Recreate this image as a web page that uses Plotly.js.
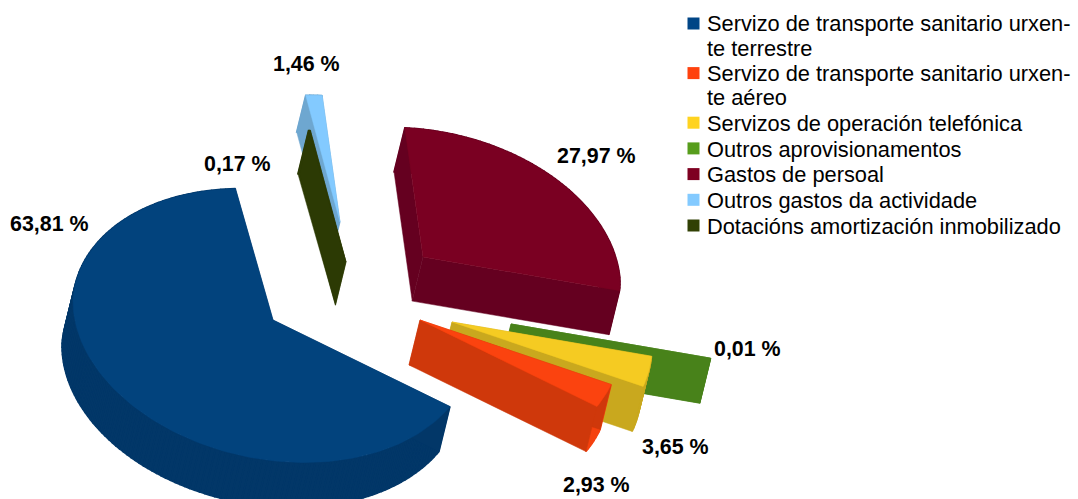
<!DOCTYPE html>
<html>
<head>
<meta charset="utf-8">
<script src="https://cdn.plot.ly/plotly-3.0.1.min.js"></script>
<style>html,body{margin:0;padding:0;background:#fff}#c{width:1078px;height:499px}</style>
</head>
<body>
<div id="c"></div>
<script>
// ---- data, in the order the pie runs counter-clockwise ----
const categories = [
  "Servizo de transporte sanitario urxen-\nte terrestre",
  "Servizo de transporte sanitario urxen-\nte aéreo",
  "Servizos de operación telefónica",
  "Outros aprovisionamentos",
  "Gastos de persoal",
  "Outros gastos da actividade",
  "Dotacións amortización inmobilizado"
];
const values = [63.81, 2.93, 3.65, 0.01, 27.97, 1.46, 0.17];

// ---- styling ----
const legendColors = ["#004586","#ff420e","#ffd320","#579d1c","#7e0021","#83caff","#314004"];
const topColors    = ["#02437d","#fb430f","#f5cb22","#48821a","#7a0022","#83caff","#2c3a04"];
const wallColors   = ["#023768","#cf380b","#c9a81e","#48821a","#650020","#6ea7d0","#2c3a04"];
const capColors    = ["#023768","#f5420f","#c9a81e","#48821a","#650020","#6ea7d0","#2c3a04"];

// ---- exploded 3D projection (plot units = pixels of the frame) ----
const startAngle = 101.5;                       // degrees where the first slice begins
const sliceTips = [[273,320],[420,320],[452,322],[511,324],[423,257],[340,222],[346,262]];
const sliceScale = [1,1,1,1,0.985,0.965,1];
const depthScale = [1,1,1,1,0.98,0.82,0.96];
const labelSpots = [[49,224],[596,485],[675,447],[747,349],[596,156],[306,64],[237,164]];
const drawOrder = [5,6,4,3,2,1,0];

function rim(i, deg){
  const tip = sliceTips[i], t = deg*Math.PI/180, c = Math.cos(t), s = Math.sin(t);
  const k = (s > 0 ? 1-0.06*s : 1-0.02*s)*sliceScale[i];   // shrink towards the far side
  return [tip[0]+200*c*k, tip[1]+(22*c-138*s)*k];
}
function poly(points, color, width){
  return {type:'scatter', mode:'lines',
          x:points.map(p=>p?p[0]:null), y:points.map(p=>p?p[1]:null),
          fill:'toself', fillcolor:color, line:{width:width||0.5,color:color},
          hoverinfo:'skip', showlegend:false};
}
const total = values.reduce((a,b)=>a+b,0);
const sweeps = []; let cursor = startAngle;
values.forEach(v=>{ const sw = v/total*360; sweeps.push([cursor,cursor+sw]); cursor += sw; });

const traces = [];
drawOrder.forEach(i=>{
  const tip = sliceTips[i], [a,b] = sweeps[i];
  const D = [-11*depthScale[i], 45*depthScale[i]];
  const down = p=>[p[0]+D[0],p[1]+D[1]];
  const n = Math.max(2,Math.ceil((b-a)/1.5));
  const arc = [];
  for(let j=0;j<=n;j++) arc.push(rim(i,a+(b-a)*j/n));
  const first = arc[0], last = arc[arc.length-1];
  const strips = [];
  for(let j=0;j<n;j++){
    strips.push(arc[j],arc[j+1],down(arc[j+1]),down(arc[j]),arc[j],null);
  }
  strips.pop();
  traces.push(poly(strips, capColors[i], 1.5));
  traces.push(poly([tip,last,down(last),down(tip),tip], wallColors[i]));
  traces.push(poly([tip,first,down(first),down(tip),tip], wallColors[i]));
  traces.push(poly([tip].concat(arc,[tip]), topColors[i]));
});

// ---- percentage labels ----
const annotations = values.map((v,i)=>({
  x:labelSpots[i][0], y:labelSpots[i][1], xref:'x', yref:'y', showarrow:false,
  xanchor:'center', yanchor:'middle',
  text:'<b>'+v.toFixed(2).replace('.',',')+' %</b>',
  font:{family:'"Liberation Sans",Arial,sans-serif',size:21.4,color:'#000'}
}));

// ---- legend ----
const shapes = [];
let rowY = 23.5;
categories.forEach((name,i)=>{
  shapes.push({type:'rect',xref:'x',yref:'y',x0:687.5,x1:699.5,y0:rowY-6,y1:rowY+6,
               fillcolor:legendColors[i],line:{width:0}});
  const lines = name.split('\n');
  lines.forEach((t,k)=>annotations.push({
    x:707,y:rowY+(i<2?0:0.6)+k*24.5,xref:'x',yref:'y',showarrow:false,xanchor:'left',yanchor:'middle',
    xshift:-2, text:t, font:{family:'"Liberation Sans",Arial,sans-serif',size:21.8,color:'#000'}
  }));
  rowY += lines.length===2 ? 49.6 : 25.7;
});

Plotly.newPlot('c',traces,{
  width:1078,height:499,margin:{l:0,r:0,t:0,b:0},
  paper_bgcolor:'#fff',plot_bgcolor:'#fff',showlegend:false,
  xaxis:{range:[0,1078],visible:false,fixedrange:true},
  yaxis:{range:[499,0],visible:false,fixedrange:true},
  annotations:annotations,shapes:shapes
},{displayModeBar:false,staticPlot:true});
</script>
</body>
</html>
